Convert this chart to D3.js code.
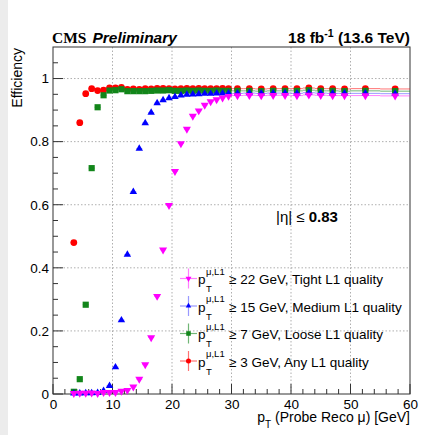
<!DOCTYPE html>
<html><head><meta charset="utf-8">
<script src="https://cdn.jsdelivr.net/npm/d3@7"></script>
<style>
body{margin:0;background:#fff}
svg{display:block}
text{font-family:"Liberation Sans",Arial,Helvetica,sans-serif;fill:#000}
</style>
</head><body>
<svg id="chart" width="446" height="435"></svg>
<script>
// ---- data ----
const binEdges = [3,4,5,6,7,8,9,10,11,12,13,14,15,16,17,18,19,20,21,22,23,24,25,26,27,28,29,30,
                  32,34,36,38,40,42,44,46,48,50,55,60];
const effAnyL1 = [0.480,0.860,0.952,0.968,0.962,0.963,0.970,0.970,0.972,0.966,0.967,0.966,0.968,0.967,0.969,0.969,0.968,0.967,0.968,0.969,0.968,0.969,0.968,0.968,0.968,0.969,0.968,
                  0.968,0.968,0.967,0.968,0.968,0.968,0.970,0.968,0.968,0.967,
                  0.968,0.967];
const effLoose = [0.007,0.047,0.283,0.716,0.909,0.947,0.962,0.963,0.966,0.960,0.960,0.960,0.960,0.961,0.962,0.962,0.963,0.961,0.961,0.962,0.961,0.962,0.961,0.961,0.962,0.961,0.961,
                  0.961,0.961,0.960,0.961,0.961,0.961,0.963,0.961,0.961,0.960,
                  0.961,0.960];
const effMedium = [0.002,0.002,0.003,0.003,0.004,0.010,0.026,0.085,0.234,0.442,0.641,0.778,0.859,0.892,0.922,0.932,0.938,0.942,0.947,0.949,0.950,0.951,0.952,0.952,0.953,0.953,0.953,
                   0.953,0.954,0.953,0.954,0.954,0.953,0.955,0.954,0.953,0.953,
                   0.953,0.952];
const effTight = [0.002,0.003,0.003,0.004,0.002,0.005,0.005,0.005,0.009,0.012,0.023,0.047,0.093,0.179,0.310,0.457,0.598,0.706,0.794,0.840,0.881,0.898,0.916,0.927,0.933,0.939,0.944,
                  0.946,0.947,0.946,0.947,0.947,0.946,0.948,0.947,0.946,0.946,
                  0.946,0.945];
const effErr = 0.005;
const legendCuts = ["22","15","7","3"];
const legendQual = ["Tight L1 quality","Medium L1 quality","Loose L1 quality","Any L1 quality"];
const xTickValues = [0,10,20,30,40,50,60];
const yTickValues = [0,0.2,0.4,0.6,0.8,1];

// ---- styles ----
const styles = {
  any:    {color:"#ff0000", line:"rgba(255,0,0,0.55)",   sym:d3.symbolCircle,   size:36, rot:0},
  loose:  {color:"#12861a", line:"rgba(18,134,26,0.6)",  sym:d3.symbolSquare,   size:38, rot:0},
  medium: {color:"#0000ff", line:"rgba(70,70,255,0.55)", sym:d3.symbolTriangle, size:24, rot:0},
  tight:  {color:"#ff00ff", line:"rgba(255,0,255,0.5)",  sym:d3.symbolTriangle, size:28, rot:180}
};
const seriesData = {any:effAnyL1, loose:effLoose, medium:effMedium, tight:effTight};

const svg = d3.select("#chart");
svg.append("rect").attr("x",0).attr("y",0).attr("width",8).attr("height",435).attr("fill","#ececec");

const L = 53, R = 410, T = 47, B = 394;
const x = d3.scaleLinear().domain([0,60]).range([L,R]);
const y = d3.scaleLinear().domain([0,1.1]).range([B,T]);

// grid
const grid = svg.append("g").attr("stroke","#9a9a9a").attr("stroke-width",0.8).attr("stroke-dasharray","1.5,2");
xTickValues.filter(v=>v>0&&v<60).forEach(v=>grid.append("line").attr("x1",x(v)).attr("x2",x(v)).attr("y1",T).attr("y2",B));
yTickValues.filter(v=>v>0).forEach(v=>grid.append("line").attr("x1",L).attr("x2",R).attr("y1",y(v)).attr("y2",y(v)));

// axes (labels via d3 axes, ticks drawn inward)
const xAxis = d3.axisBottom(x).tickValues(xTickValues).tickSize(0).tickPadding(5).tickFormat(d3.format("d"));
const gx = svg.append("g").attr("transform",`translate(0,${B})`).call(xAxis);
const yAxis = d3.axisLeft(y).tickValues(yTickValues).tickSize(0).tickPadding(4).tickFormat(d=>d===0?"0":d===1?"1":d3.format(".1f")(d));
const gy = svg.append("g").attr("transform",`translate(${L},0)`).call(yAxis);
svg.selectAll(".domain").remove();
svg.selectAll(".tick text").style("font-size","13.5px").style("font-family","Liberation Sans, Arial, sans-serif").attr("fill","#000");

const tk = svg.append("g").attr("stroke","#333").attr("stroke-width",1);
d3.range(0,61,2).forEach(v=>{
  const len = v%10===0 ? 10 : 5;
  tk.append("line").attr("x1",x(v)).attr("x2",x(v)).attr("y1",B).attr("y2",B-len);
});
d3.range(0,22).map(i=>i*0.05).forEach(v=>{
  const major = Math.abs(v*5-Math.round(v*5))<1e-6;
  tk.append("line").attr("x1",L).attr("x2",L+(major?10:5)).attr("y1",y(v)).attr("y2",y(v));
});

// frame
svg.append("rect").attr("x",L).attr("y",T).attr("width",R-L).attr("height",B-T)
  .attr("fill","none").attr("stroke","#333").attr("stroke-width",1);

// series
const bins = effAnyL1.map((_,i)=>({lo:binEdges[i],hi:binEdges[i+1],c:(binEdges[i]+binEdges[i+1])/2}));
["any","loose","medium","tight"].forEach(name=>{
  const st = styles[name], vals = seriesData[name];
  const g = svg.append("g");
  const pts = vals.map((v,i)=>({v, ...bins[i]}));
  g.selectAll("line.h").data(pts).join("line").attr("class","h")
    .attr("x1",d=>x(d.lo)).attr("x2",d=>x(d.hi)).attr("y1",d=>y(d.v)).attr("y2",d=>y(d.v))
    .attr("stroke",st.line).attr("stroke-width",1);
  g.selectAll("line.v").data(pts).join("line").attr("class","v")
    .attr("x1",d=>x(d.c)).attr("x2",d=>x(d.c)).attr("y1",d=>y(Math.min(1.1,d.v+effErr))).attr("y2",d=>y(Math.max(0,d.v-effErr)))
    .attr("stroke",st.line).attr("stroke-width",1);
  g.selectAll("path").data(pts).join("path")
    .attr("d",d3.symbol().type(st.sym).size(st.size))
    .attr("transform",d=>`translate(${x(d.c)},${y(d.v)}) rotate(${st.rot})`)
    .attr("fill",st.color);
});

// legend
const legOrder = ["tight","medium","loose","any"];
legOrder.forEach((name,i)=>{
  const st = styles[name];
  const cy = 278.5 + i*27.5;
  const g = svg.append("g");
  g.append("line").attr("x1",180).attr("x2",197).attr("y1",cy).attr("y2",cy).attr("stroke",st.line).attr("stroke-width",1.2);
  g.append("line").attr("x1",188.5).attr("x2",188.5).attr("y1",cy-10).attr("y2",cy+10).attr("stroke",st.line).attr("stroke-width",1.2);
  g.append("path").attr("d",d3.symbol().type(st.sym).size(st.size*0.55)).attr("transform",`translate(188.5,${cy}) rotate(${st.rot})`).attr("fill",st.color);
  g.append("text").attr("x",198).attr("y",cy+5.5).style("font-size","13.5px").text("p");
  g.append("text").attr("x",206).attr("y",cy-4).style("font-size","9.5px").text("\u03bc,L1");
  g.append("text").attr("x",206).attr("y",cy+13.5).style("font-size","9.5px").text("T");
  g.append("text").attr("x",229).attr("y",cy+5.5).style("font-size","13.5px")
    .text(`\u2265 ${legendCuts[i]} GeV, ${legendQual[i]}`);
});

// eta label
const eta = svg.append("text").attr("x",276).attr("y",221.5).style("font-size","15px");
eta.append("tspan").text("|\u03b7| \u2264 ");
eta.append("tspan").style("font-weight","bold").text("0.83");

// header
const hdr = svg.append("text").attr("x",52).attr("y",43);
hdr.append("tspan").style("font-family","Liberation Serif, Times New Roman, serif").style("font-weight","bold").style("font-size","15.5px").text("CMS");
hdr.append("tspan").attr("dx",6).style("font-weight","bold").style("font-style","italic").style("font-size","15.5px").text("Preliminary");

const lumi = svg.append("text").attr("x",410).attr("y",43).attr("text-anchor","end").style("font-weight","bold").style("font-size","15.5px");
lumi.append("tspan").text("18 fb");
lumi.append("tspan").attr("dy",-6).style("font-size","10.5px").text("-1");
lumi.append("tspan").attr("dy",6).text(" (13.6 TeV)");

// axis titles
svg.append("text").attr("transform","translate(22,48) rotate(-90)").attr("text-anchor","end").style("font-size","14px").text("Efficiency");
const xt = svg.append("text").attr("x",410).attr("y",421.5).attr("text-anchor","end").style("font-size","14px");
xt.append("tspan").text("p");
xt.append("tspan").attr("dy",6).style("font-size","10px").text("T");
xt.append("tspan").attr("dy",-6).text(" (Probe Reco \u03bc) [GeV]");
</script>
</body></html>
